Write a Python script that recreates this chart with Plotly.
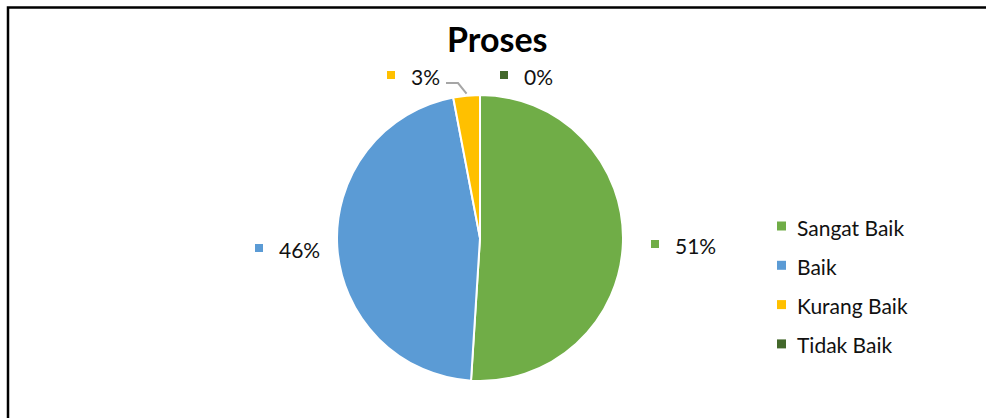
import math
import plotly.graph_objects as go

# Category names, shares (percent) and slice colours
categories = ["Sangat Baik", "Baik", "Kurang Baik", "Tidak Baik"]
shares = [51, 46, 3, 0]
colors = ["#70AD47", "#5B9BD5", "#FFC000", "#43682B"]
title_text = "Proses"

W, H = 986, 418
FONT = "Lato"
CX, CY, R = 480, 238, 143  # pie centre and radius in pixels


def px(x):
    return x / W


def py(y):
    return 1 - y / H


fig = go.Figure(
    go.Pie(
        labels=categories,
        values=shares,
        marker=dict(colors=colors, line=dict(color="white", width=2)),
        sort=False,
        direction="clockwise",
        rotation=0,
        textinfo="none",
        hoverinfo="label+percent",
        showlegend=False,
        domain=dict(x=[px(CX - R), px(CX + R)], y=[py(CY + R), py(CY - R)]),
    )
)

shapes = []
annotations = []

# Data labels: square key at (kx, ky) followed by the percentage text
label_pos = {
    "Sangat Baik": (655, 244),
    "Baik": (259, 248),
    "Kurang Baik": (391, 75),
    "Tidak Baik": (504, 75),
}
total = sum(shares)
for name, v, c in zip(categories, shares, colors):
    kx, ky = label_pos[name]
    shapes.append(dict(type="rect", xref="paper", yref="paper",
                       x0=px(kx - 4), x1=px(kx + 4), y0=py(ky + 4), y1=py(ky - 4),
                       fillcolor=c, line=dict(width=0)))
    annotations.append(dict(x=px(kx + 18), y=py(ky + 1), xref="paper", yref="paper",
                            xanchor="left", yanchor="middle", showarrow=False,
                            text=f"{round(100 * v / total)}%",
                            font=dict(family=FONT, size=21, color="#111")))

# Leader line from the small slice's label to its arc midpoint
start = sum(shares[:2]) / total
end = sum(shares[:3]) / total
mid = (start + end) / 2 * 2 * math.pi
ex = CX + R * math.sin(mid)
ey = CY - R * math.cos(mid)
shapes.append(dict(type="path", xref="paper", yref="paper",
                   path=f"M {px(446)} {py(83)} L {px(458)} {py(83)} L {px(ex)} {py(ey - 2)}",
                   line=dict(color="#A6A6A6", width=2)))

# Legend entries
for i, (name, c) in enumerate(zip(categories, colors)):
    ly = 226 + i * 39.3
    shapes.append(dict(type="rect", xref="paper", yref="paper",
                       x0=px(777), x1=px(786), y0=py(ly + 4.5), y1=py(ly - 4.5),
                       fillcolor=c, line=dict(width=0)))
    annotations.append(dict(x=px(795), y=py(ly + 1), xref="paper", yref="paper",
                            xanchor="left", yanchor="middle", showarrow=False,
                            text=name, font=dict(family=FONT, size=21, color="#111")))

# Chart title
annotations.append(dict(x=px(498), y=py(38), xref="paper", yref="paper",
                        xanchor="center", yanchor="middle", showarrow=False,
                        text=f"<b>{title_text}</b>",
                        font=dict(family=FONT, size=34, color="#000")))

# Chart-area frame
shapes.append(dict(type="rect", xref="paper", yref="paper",
                   x0=px(8), x1=1.02, y0=-0.02, y1=py(7.5),
                   line=dict(color="#000", width=2.5), fillcolor="rgba(0,0,0,0)"))

fig.update_layout(
    width=W, height=H,
    margin=dict(l=0, r=0, t=0, b=0),
    paper_bgcolor="white",
    plot_bgcolor="white",
    shapes=shapes,
    annotations=annotations,
)

fig.write_html("out.html")
